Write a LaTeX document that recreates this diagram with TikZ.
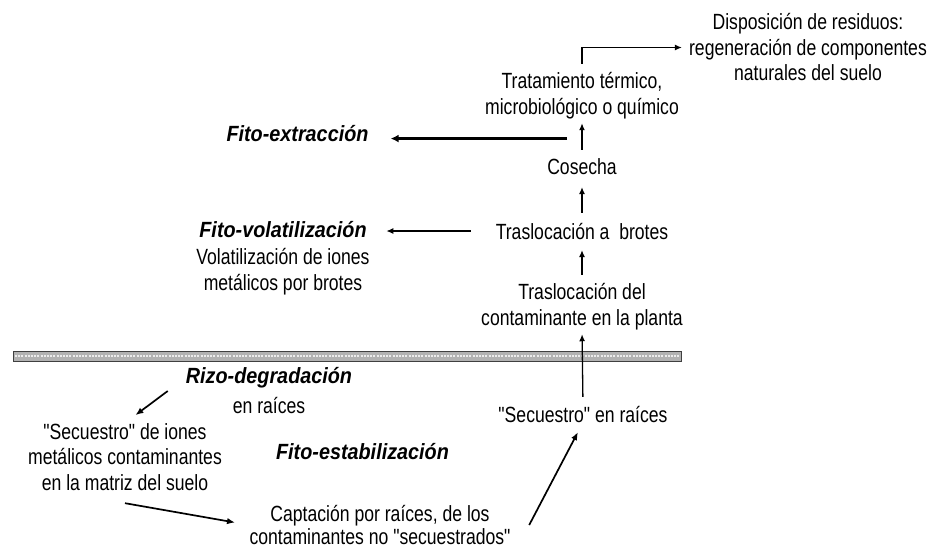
\documentclass[tikz,border=0pt]{standalone}
\usepackage{fontspec}
\setmainfont{Liberation Sans}[FakeStretch=0.8, Ligatures=TeXOff]
\newfontfamily\hdfont{Liberation Sans}[FakeStretch=0.9, Ligatures=TeXOff]
\usetikzlibrary{arrows.meta,calc}
\begin{document}
\begin{tikzpicture}[x=1pt,y=-1pt,
  txt/.style={inner sep=0pt, align=center, font=\fontsize{22}{25.5}\selectfont},
  txtone/.style={inner sep=0pt, font=\fontsize{22}{25.5}\selectfont},
  hd/.style={inner sep=0pt, font=\fontsize{22}{25.5}\selectfont\hdfont\bfseries\itshape},
  arr/.style={line width=1.3pt, -{Latex[length=7pt,width=6pt]}},
  darr/.style={line width=1.7pt, -{Latex[length=8pt,width=6.5pt]}},
  tarr/.style={line width=2.6pt, -{Latex[length=8pt,width=8pt]}}]
\useasboundingbox (0,0) rectangle (934,547);
\fill[white] (0,0) rectangle (934,547);

% nodes
\node[txt] (disp) at (808,47.5) {Disposición de residuos:\\regeneración de componentes\\naturales del suelo};
\node[txt] (trat) at (582,95.9) {Tratamiento térmico,\\microbiológico o químico};
\node[txtone, anchor=base] (cos) at (582,174) {Cosecha};
\node[txtone, anchor=base] (trasb) at (582,239) {Traslocación a\ \ brotes};
\node[txt] (trasc) at (582,306.9) {Traslocación del\\contaminante en la planta};
\node[txtone, anchor=base] (secr) at (583,422) {"Secuestro" en raíces};
\node[txt] (capt) at (380,525) {Captación por raíces, de los\\[-3pt]contaminantes no "secuestrados"};
\node[hd, anchor=base] (fest) at (362.5,459.5) {Fito-estabilización};
\node[hd, anchor=base] (fext) at (297.5,141) {Fito-extracción};
\node[txt] (fvol) at (283,258.4) {{\hdfont\bfseries\itshape Fito-volatilización}\\[1.5pt]Volatilización de iones\\metálicos por brotes};
\node[txt] (rizo) at (269,391) {{\hdfont\bfseries\itshape Rizo-degradación}\\[4.5pt]en raíces};
\node[txt] (secm) at (125,456.7) {"Secuestro" de iones\\metálicos contaminantes\\en la matriz del suelo};

% ground bar
\draw[black!75, fill=gray!60, line width=0.8pt] (13,351) rectangle (681,361);
\draw[gray!15, line width=2pt, dash pattern=on 2pt off 1.2pt] (15,356) -- (679,356);

% connectors
\draw[arr, shorten <=9pt, shorten >=7pt] (trat.north) |- (disp.west);
\draw[arr, shorten <=8pt, shorten >=4pt] (cos.north) -- (trat.south);
\draw[arr, shorten <=9.7pt, shorten >=12.7pt] (trasb.north) -- (cos.south);
\draw[arr, shorten <=8.7pt, shorten >=10.7pt] (trasc.north) -- (trasb.south);
\draw[arr, shorten <=8.7pt, shorten >=4pt] (secr.north) -- (trasc.south);
\draw[darr, shorten >=11pt] ([xshift=18.5pt]capt.east) -- (secr.south);
\draw[darr, shorten >=14.5pt] ([yshift=-12.7pt]secm.south) -- (capt.west);
\draw[darr, shorten >=13pt] ([xshift=-18pt]rizo.west) -- (secm.north);
\coordinate (ext) at ($(cos.north)!0.5!(trat.south)+(-15,0)$);
\draw[tarr, shorten >=22pt] (ext) -- (ext -| fext.east);
\draw[arr, shorten <=25pt, shorten >=16.5pt] (trasb.west) -- (trasb.west -| fvol.east);
\end{tikzpicture}
\end{document}
